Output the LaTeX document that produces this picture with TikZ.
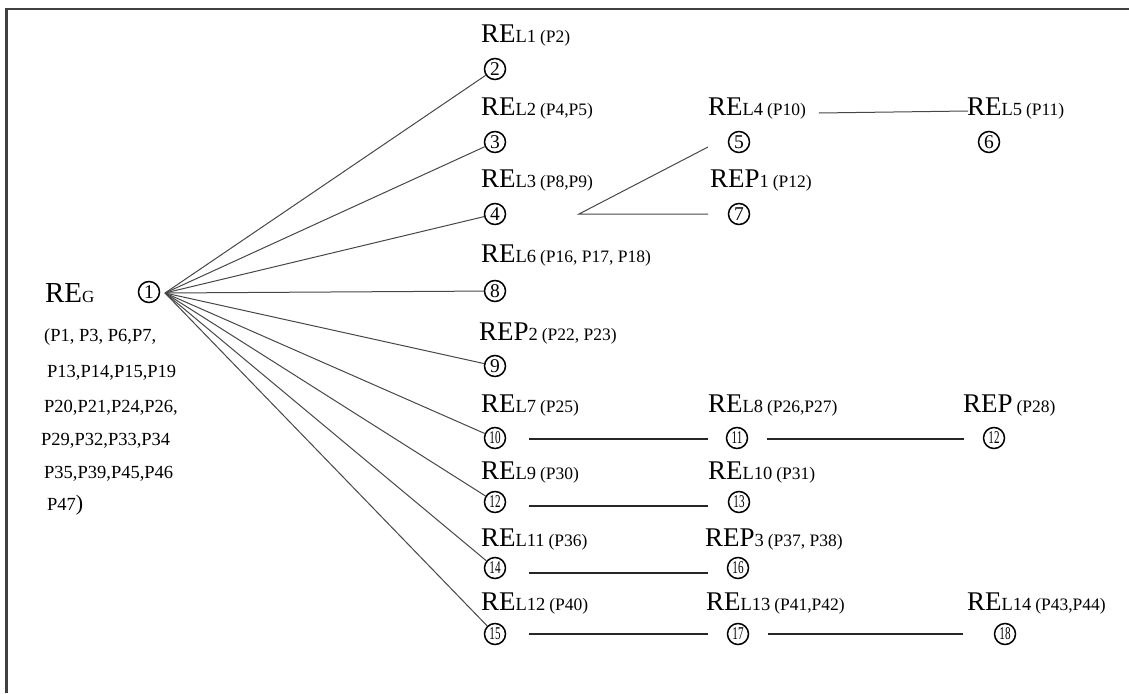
\documentclass[tikz,border=0pt]{standalone}
\usepackage{fontspec}
\setmainfont{Liberation Serif}
\usepackage{graphicx}
\usetikzlibrary{calc}

% label text: big prefix, smaller index, small parenthesised list
\newcommand\relab[3]{{\fontsize{27}{27}\selectfont #1}{\fontsize{18.5}{18.5}\selectfont #2}\hspace{4pt}{\fontsize{17.5}{17.5}\selectfont #3}}
% digits inside the circle markers
\newcommand\onedig[1]{{\fontsize{19.5}{19.5}\selectfont #1}}
\newcommand\twodig[1]{{\fontsize{18}{18}\selectfont\scalebox{0.62}[1]{#1}}}

\tikzset{
  lab/.style={anchor=base west, inner sep=0pt, outer sep=0pt},
  num/.style={circle, draw, line width=1.5pt, minimum size=21pt, inner sep=0pt},
  link/.style={draw=black!72, line width=1pt},
  hlink/.style={draw=black!85, line width=1.2pt},
  plist/.style={anchor=base west, inner sep=0pt, font=\fontsize{18.5}{18.5}\selectfont},
}

\begin{document}
\begin{tikzpicture}[x=1pt, y=-1pt]
\useasboundingbox (0,0) rectangle (1129,693);

% partial frame
\draw[line width=2.2pt, black!75] (6.5,693) -- (6.5,9) -- (1129,9);

% ---- root ----
\node[lab] (lG) at (45,302) {{\fontsize{29}{29}\selectfont RE}{\fontsize{17}{17}\selectfont G}};
\node[num] (c1) at (149,292) {\onedig{1}};
\coordinate (hub) at (165,293);
\node[plist] (g1) at (44,341) {(P1, P3, P6,P7,};
\node[plist] (g2) at (47,377) {P13,P14,P15,P19};
\node[plist] (g3) at (44,412) {P20,P21,P24,P26,};
\node[plist] (g4) at (41,445) {P29,P32,P33,P34};
\node[plist] (g5) at (44,478) {P35,P39,P45,P46};
\node[plist] (g6) at (47,510) {P47{\fontsize{22}{22}\selectfont )}};

% ---- first column ----
\node[lab] (l2)  at (481,43)  {\relab{RE}{L1}{(P2)}};
\node[num] (c2)  at (495,69)  {\onedig{2}};
\node[lab] (l3)  at (481,115) {\relab{RE}{L2}{(P4,P5)}};
\node[num] (c3)  at (495,142) {\onedig{3}};
\node[lab] (l4)  at (481,187) {\relab{RE}{L3}{(P8,P9)}};
\node[num] (c4)  at (495,214) {\onedig{4}};
\node[lab] (l8)  at (481,262) {\relab{RE}{L6}{(P16, P17, P18)}};
\node[num] (c8)  at (495,291) {\onedig{8}};
\node[lab] (l9)  at (479,340) {\relab{REP}{2}{(P22, P23)}};
\node[num] (c9)  at (495,366) {\onedig{9}};
\node[lab] (l10) at (481,412) {\relab{RE}{L7}{(P25)}};
\node[num] (c10) at (495,438) {\twodig{10}};
\node[lab] (l12) at (481,479) {\relab{RE}{L9}{(P30)}};
\node[num] (c12) at (495,502) {\twodig{12}};
\node[lab] (l14) at (481,546) {\relab{RE}{L11}{(P36)}};
\node[num] (c14) at (495,568) {\twodig{14}};
\node[lab] (l15) at (481,610) {\relab{RE}{L12}{(P40)}};
\node[num] (c15) at (495,634) {\twodig{15}};

% ---- second column ----
\node[lab] (l5)  at (708,115) {\relab{RE}{L4}{(P10)}};
\node[num] (c5)  at (739,142) {\onedig{5}};
\node[lab] (l7)  at (710,187) {\relab{REP}{1}{(P12)}};
\node[num] (c7)  at (739,214) {\onedig{7}};
\node[lab] (l11) at (708,412) {\relab{RE}{L8}{(P26,P27)}};
\node[num] (c11) at (737,438) {\twodig{11}};
\node[lab] (l13) at (708,479) {\relab{RE}{L10}{(P31)}};
\node[num] (c13) at (739,502) {\twodig{13}};
\node[lab] (l16) at (705,546) {\relab{REP}{3}{(P37, P38)}};
\node[num] (c16) at (738,568) {\twodig{16}};
\node[lab] (l17) at (706,610) {\relab{RE}{L13}{(P41,P42)}};
\node[num] (c17) at (738,634) {\twodig{17}};

% ---- third column ----
\node[lab] (l6)  at (967,115) {\relab{RE}{L5}{(P11)}};
\node[num] (c6)  at (989,142) {\onedig{6}};
\node[lab] (l12b) at (963,412) {\relab{REP}{}{(P28)}};
\node[num] (c12b) at (994,438) {\twodig{12}};
\node[lab] (l18) at (967,610) {\relab{RE}{L14}{(P43,P44)}};
\node[num] (c18) at (1005,634) {\twodig{18}};

% ---- fan from the root ----
\foreach \t in {c2,c3,c4,c8,c9,c10,c12,c14,c15}
  \draw[link] (hub) -- (\t);

% ---- branch after node 4 ----
\coordinate (fork) at (579,214);
\coordinate (to5) at (708,147);
\coordinate (to7) at (708,214);
\draw[link] (to5) -- (fork) -- (to7);

% ---- link between L4 and L5 ----
\draw[link] ($(l5.base east)+(13,-2)$) -- ($(l6.base west)+(1,-4)$);

% ---- horizontal chains ----
\draw[hlink] ($(c10.east)+(23,1)$) -- ($(c11.west)+(-18,1)$);
\draw[hlink] ($(c11.east)+(19,1)$) -- ($(c12b.west)+(-19,1)$);
\draw[hlink] ($(c12.east)+(23,4)$) -- ($(c13.west)+(-20,4)$);
\draw[hlink] ($(c14.east)+(23,5)$) -- ($(c16.west)+(-19,5)$);
\draw[hlink] ($(c15.east)+(23,0)$) -- ($(c17.west)+(-19,0)$);
\draw[hlink] ($(c17.east)+(19,0)$) -- ($(c18.west)+(-31,0)$);
\end{tikzpicture}
\end{document}
